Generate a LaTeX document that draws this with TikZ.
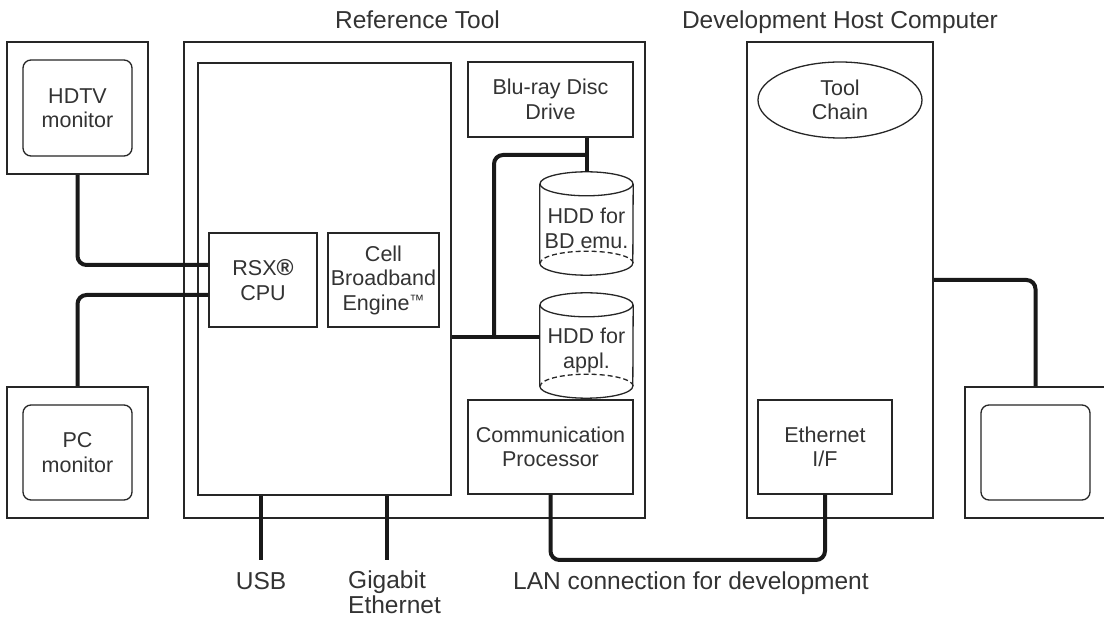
\documentclass[tikz,border=0pt]{standalone}
\usepackage{fontspec}
\setmainfont{Liberation Sans}
\usetikzlibrary{shapes.geometric}
\newcommand\fsz{\fontsize{21.5pt}{24.5pt}\selectfont}
\newcommand\fszL{\fontsize{24.5pt}{25pt}\selectfont}
\tikzset{
  box/.style={draw=black!85, line width=1.3pt, inner sep=0pt, align=center, text=black!80, font=\fsz},
  outerbox/.style={draw=black!85, line width=1.9pt, inner sep=0pt},
  screen/.style={draw=black!85, line width=1.3pt, inner sep=0pt, rounded corners=8pt, align=center, text=black!80, font=\fsz},
  ghost/.style={inner sep=0pt, align=center, text=black!80, font=\fsz},
  cylline/.style={draw=black!85, line width=1.3pt},
  wire/.style={draw=black!90, line width=4pt, rounded corners=9pt},
  lbl/.style={inner sep=0pt, text=black!80, font=\fszL},
}
\begin{document}
\begin{tikzpicture}[x=1pt,y=-1pt]
\useasboundingbox[fill=white] (0,0) rectangle (1104,617);

% titles
\node[lbl, anchor=base] (reftitle) at (417.5,29) {Reference Tool};
\node[lbl, anchor=base] (devtitle) at (840,29) {Development Host Computer};

% monitors
\node[outerbox, minimum width=141pt, minimum height=132pt] (hdtvO) at (77.5,108) {};
\node[screen, minimum width=109pt, minimum height=96pt] (hdtvI) at (77.5,108) {HDTV\\monitor};
\node[outerbox, minimum width=141pt, minimum height=131pt] (pcO) at (77.5,452.5) {};
\node[screen, minimum width=109pt, minimum height=95pt] (pcI) at (77.5,452.5) {PC\\monitor};
\node[outerbox, minimum width=141pt, minimum height=131pt] (rmO) at (1035.5,452.5) {};
\node[screen, minimum width=109pt, minimum height=95pt] (rmI) at (1035.5,452.5) {};

% reference tool
\node[outerbox, minimum width=461pt, minimum height=476pt] (refO) at (414.5,280) {};
\node[box, minimum width=253pt, minimum height=432pt] (big) at (324.5,279) {};
\node[box, minimum width=108pt, minimum height=94pt] (rsx) at (263,280) {RSX{\bfseries\fontsize{23pt}{23pt}\selectfont ®}\\CPU};
\node[box, minimum width=111pt, minimum height=94pt] (cell) at (383.5,280) {Cell\\Broadband\\Engine\raisebox{4.6pt}{\fontsize{15pt}{15pt}\selectfont ™}};
\node[box, minimum width=165pt, minimum height=75pt] (bd) at (550.5,99.5) {Blu-ray Disc\\Drive};
\node[box, minimum width=165pt, minimum height=94pt] (comm) at (550.5,447) {Communication\\Processor};

% cylinders
\node[ghost, minimum width=93pt, minimum height=103pt] (hdd1) at (586.5,223.5) {};
\node[ghost, minimum width=93pt, minimum height=105pt] (hdd2) at (586.5,345.5) {};
\foreach \c in {hdd1,hdd2}{
  \draw[cylline] ([yshift=-12pt]\c.north west) -- ([yshift=12pt]\c.south west)
     arc[start angle=180, end angle=360, x radius=46.5pt, y radius=12pt]
     -- ([yshift=-12pt]\c.north east);
  \draw[cylline] ([yshift=-12pt]\c.north) ellipse[x radius=46.5pt, y radius=12pt];
  \draw[cylline, dash pattern=on 5pt off 3pt] ([yshift=12pt]\c.south east)
     arc[start angle=0, end angle=180, x radius=46.5pt, y radius=12pt];
}
\node[ghost] (hdd1t) at ([yshift=-5pt]hdd1.center) {HDD for\\BD emu.};
\node[ghost] (hdd2t) at ([yshift=-5pt]hdd2.center) {HDD for\\appl.};

% development host
\node[outerbox, minimum width=186pt, minimum height=476pt] (devO) at (840,280) {};
\node[box, shape=ellipse, minimum width=164pt, minimum height=76pt] (tool) at (840,100) {Tool\\Chain};
\node[box, minimum width=134pt, minimum height=94pt] (eth) at (825,447) {Ethernet\\I/F};

% connectors
\draw[wire] (hdtvO.south) |- ([yshift=15pt]rsx.west);
\draw[wire] ([yshift=-15pt]rsx.west) -| (pcO.north);
\coordinate (busR) at ([yshift=8.5pt]hdd2.west);
\coordinate (busJ) at (494,337);
\coordinate (bdJ) at (586.5,155);
\draw[wire] (big.east |- busR) -- (busR);
\draw[wire] (busJ) |- (bdJ);
\draw[wire] (bd.south -| hdd1.north) -- (hdd1.north);
\draw[wire] (devO.east) -| (rmO.north);
\coordinate (lanL) at (550.5,560);
\draw[wire] (comm.south) -- (lanL) -| (eth.south);
\coordinate (usb) at (261,560);
\coordinate (gbe) at (387,560);
\draw[wire] (usb |- big.south) -- (usb);
\draw[wire] (gbe |- big.south) -- (gbe);

% bottom labels
\node[lbl, anchor=base] (usbL) at (261,589) {USB};
\node[lbl, align=left, anchor=north west] (gbeL) at (348,571) {Gigabit\\Ethernet};
\node[lbl, anchor=base west] (lanT) at (513,589) {LAN connection for development};
\end{tikzpicture}
\end{document}
